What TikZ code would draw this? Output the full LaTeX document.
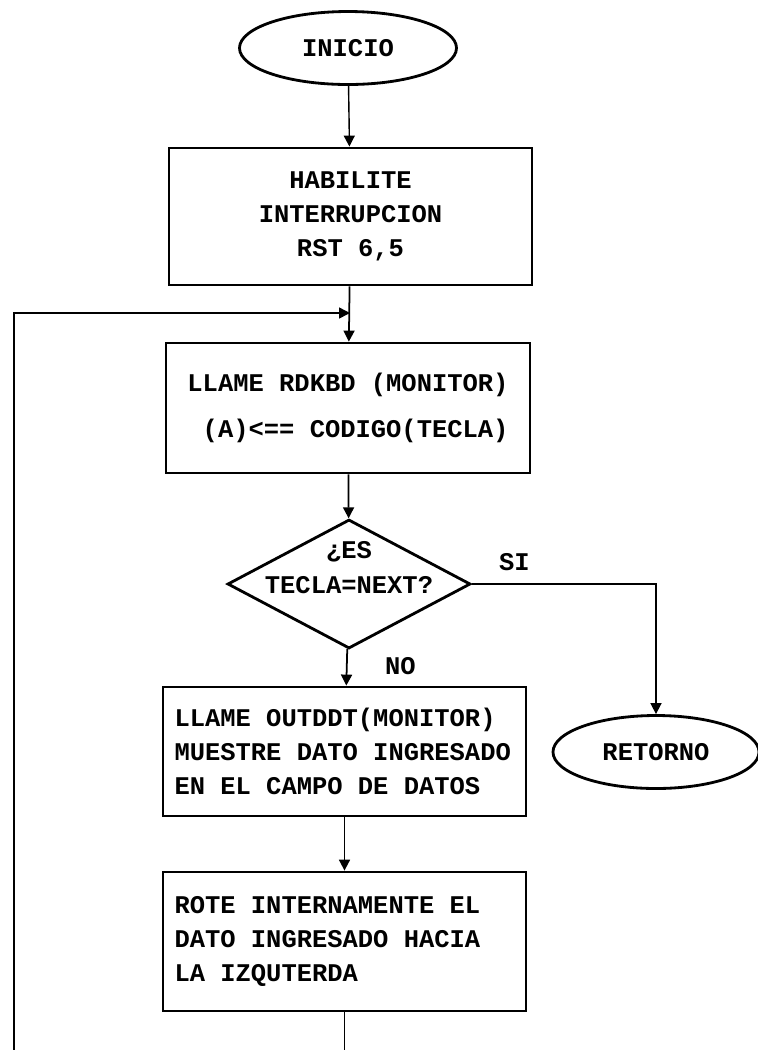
\documentclass[tikz,border=0pt]{standalone}
\usepackage{fontspec}
\setmonofont{Liberation Mono}[WordSpace={1,0,0}]
\usetikzlibrary{shapes.geometric,arrows.meta,positioning}

\begin{document}
\begin{tikzpicture}[
        txt/.style={font=\ttfamily\bfseries\fontsize{14.5}{19.5}\selectfont},
        term/.style={ellipse,draw,line width=1.6pt,txt,inner sep=0pt},
        proc/.style={rectangle,draw,line width=1.6pt,txt,inner sep=0pt,minimum width=7.26cm},
        leftproc/.style={proc,text width=6.8cm,align=left,execute at begin node={\spaceskip=0pt\xspaceskip=0pt\relax}},
        decision/.style={diamond,draw,line width=1.6pt,inner sep=0pt,minimum width=4.86cm,minimum height=2.58cm},
        flow/.style={line width=1pt,-{Triangle[length=2.2mm,width=2.2mm]}},
        wire/.style={line width=0.9pt}
    ]
        \useasboundingbox (0,0) rectangle (15.16,-21);
        % nodes of the flow
        \node[term,minimum width=4.34cm,minimum height=1.46cm] (inicio) at (6.96,-0.96){INICIO};
        \node[proc,minimum height=2.74cm,align=center] (habilite) at (7.01,-4.33){HABILITE\\INTERRUPCION\\RST 6,5};
        \node[proc,minimum width=7.28cm,minimum height=2.6cm,align=right] (llame) at (6.96,-8.16){LLAME RDKBD (MONITOR)\\[6.5pt](A)<== CODIGO(TECLA)};
        \node[decision] (tecla) at (6.98,-11.68){};
        \node[txt,align=center] (pregunta) at ([yshift=0.33cm]tecla.center){¿ES\\TECLA=NEXT?};
        \node[leftproc,minimum height=2.58cm] (muestre) at (6.89,-15.03){LLAME OUTDDT(MONITOR)\\MUESTRE DATO INGRESADO\\EN EL CAMPO DE DATOS};
        \node[leftproc,minimum height=2.78cm] (rote) at (6.89,-18.83){ROTE INTERNAMENTE EL\\DATO INGRESADO HACIA\\LA IZQUTERDA};
        \node[term,minimum width=4.12cm,minimum height=1.46cm] (retorno) at (13.12,-15.04){RETORNO};
        % labels
        \node[txt,anchor=south west] (si) at ([shift={(0.42,0.14)}]tecla.east){SI};
        \node[txt,anchor=west] (no) at ([shift={(0.6,-0.33)}]tecla.south){NO};
        % connectors
        \coordinate (fondo) at (0.28,-21);
        \coordinate (entrada) at (7.0,-6.26);
        \draw[flow,line width=0.8pt] (inicio) -- (habilite);
        \draw[flow] (habilite) -- (llame);
        \draw[flow] (llame) -- (tecla);
        \draw[flow] (tecla) -- (muestre);
        \draw[flow] (muestre) -- (rote);
        \draw[flow,wire] (tecla.east) -| (retorno.north);
        \draw[wire] (rote.south) -- (rote.south |- fondo);
        \draw[flow,wire] (fondo) |- (entrada);
    \end{tikzpicture}
\end{document}
